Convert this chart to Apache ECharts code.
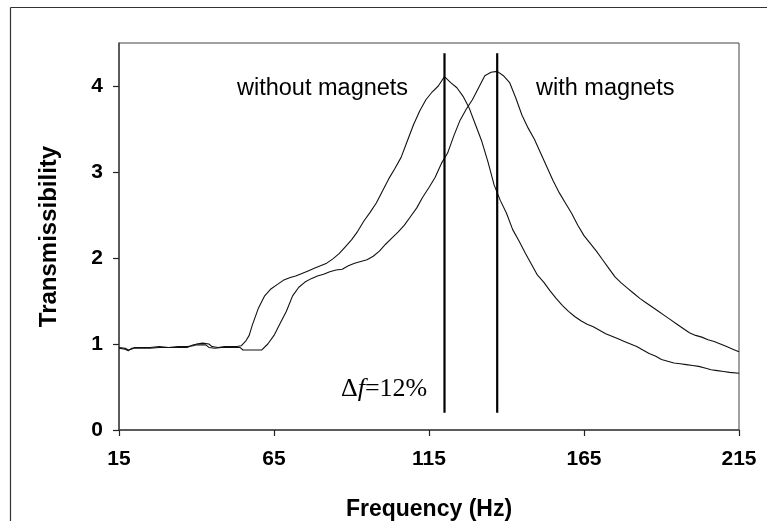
<!DOCTYPE html>
<html>
<head>
<meta charset="utf-8">
<script src="https://cdn.jsdelivr.net/npm/echarts@6/dist/echarts.min.js"></script>
<style>
  html, body { margin: 0; padding: 0; background: #fff; }
  #chart { width: 767px; height: 521px; }
</style>
</head>
<body>
<div id="chart"></div>
<script>
// Frequency sweep without magnets (Hz) and its transmissibility
const freqWithout = [15,17,18,19,20,22,25,28,31,34,37,39,40,42,44,45,47,49,51,53,54.5,56,57,58,60,62,64,66,68,70,72,74,76,78,80,82,84,86,88,90,92,94,96,98,100,102,104,106,108,110,112,114,116,118,120,122,124,126,128,130,132,134,136,138,140,142,144,146,148,150,152,154,156,158,160,162,164,166,168,170,172,174,176,178,180,182,184,186,188,190,192,194,196,198,200,202,204,206,208,210,212,215];
const transWithout = [0.96,0.95,0.93,0.94,0.96,0.96,0.96,0.97,0.96,0.97,0.97,0.98,1.00,1.01,1.00,0.97,0.96,0.97,0.97,0.97,0.98,1.04,1.10,1.22,1.42,1.56,1.64,1.69,1.74,1.77,1.79,1.82,1.85,1.88,1.91,1.94,1.99,2.05,2.13,2.21,2.31,2.43,2.53,2.64,2.78,2.92,3.04,3.17,3.36,3.55,3.71,3.84,3.93,4.00,4.11,4.04,3.98,3.88,3.74,3.55,3.36,3.12,2.85,2.67,2.52,2.33,2.20,2.06,1.93,1.80,1.72,1.62,1.53,1.45,1.38,1.32,1.27,1.23,1.20,1.16,1.12,1.09,1.06,1.03,1.00,0.97,0.93,0.89,0.86,0.82,0.80,0.78,0.77,0.76,0.75,0.74,0.72,0.70,0.69,0.68,0.67,0.66];

// Frequency sweep with magnets (Hz) and its transmissibility
const freqWith = [15,17,18,19,22,25,28,31,34,37,39,41,43,44,46,48,50,52,54,55,57,59,61,63,65,67,69,71,73,75,77,79,81,83,85,87,89,91,93,95,97,99,101,103,105,107,109,111,113,115,117,119,121,123,125,127,129,131,133,135,137,139,141,143,145,147,149,151,153,155,157,159,161,163,165,167,169,171,173,175,177,179,181,183,185,187,189,191,193,195,197,199,201,203,205,207,209,211,213,215];
const transWith = [0.95,0.94,0.92,0.95,0.95,0.95,0.96,0.96,0.96,0.96,0.99,0.99,0.99,0.96,0.95,0.96,0.96,0.96,0.96,0.93,0.93,0.93,0.93,1.00,1.10,1.24,1.38,1.56,1.66,1.72,1.76,1.79,1.81,1.84,1.86,1.87,1.91,1.94,1.96,1.98,2.02,2.08,2.16,2.23,2.30,2.38,2.48,2.58,2.71,2.82,2.94,3.10,3.22,3.42,3.60,3.73,3.84,3.98,4.12,4.16,4.17,4.12,4.04,3.86,3.66,3.51,3.38,3.22,3.06,2.90,2.76,2.64,2.52,2.38,2.26,2.17,2.08,1.98,1.88,1.78,1.71,1.65,1.59,1.53,1.48,1.43,1.38,1.33,1.28,1.23,1.18,1.13,1.10,1.08,1.05,1.03,1.00,0.97,0.94,0.91];

// Resonance markers (Hz) and the vertical span they cover
const peakFreqs = [120, 137];
const peakSpan = [0.2, 4.38];

// Axis ticks
const freqTicks = [15, 65, 115, 165, 215];
const transTicks = [0, 1, 2, 3, 4];

const zip = (xs, ys) => xs.map((x, i) => [x, ys[i]]);

const chart = echarts.init(document.getElementById('chart'), null, { renderer: 'canvas' });

const sans = 'Liberation Sans, Arial, sans-serif';
const serif = 'Liberation Serif, Times New Roman, serif';
const curveStyle = { color: '#111', width: 1.1 };

const markerSeries = peakFreqs.map(f => ({
  type: 'line',
  data: peakSpan.map(v => [f, v]),
  symbol: 'none',
  silent: true,
  lineStyle: { color: '#000', width: 2.2 },
  z: 3
}));

chart.setOption({
  animation: false,
  backgroundColor: '#fff',
  grid: {
    left: 119, right: 28, top: 43, bottom: 91,
    containLabel: false,
    outerBoundsMode: 'none',
    show: true, borderColor: '#444', borderWidth: 1
  },
  xAxis: {
    type: 'value',
    min: 15, max: 215,
    name: 'Frequency (Hz)',
    nameLocation: 'middle',
    nameGap: 68,
    nameTextStyle: { fontFamily: sans, fontWeight: 'bold', fontSize: 23, color: '#000' },
    axisLine: { show: true, lineStyle: { color: '#444', width: 1.5 } },
    axisTick: { show: true, length: 6, lineStyle: { color: '#222', width: 1.2 }, customValues: freqTicks },
    axisLabel: { customValues: freqTicks, margin: 19, fontFamily: sans, fontWeight: 'bold', fontSize: 21, color: '#000' },
    splitLine: { show: false }
  },
  yAxis: {
    type: 'value',
    min: 0, max: 4.5,
    name: 'Transmissibility',
    nameLocation: 'middle',
    nameGap: 58,
    nameTextStyle: { fontFamily: sans, fontWeight: 'bold', fontSize: 24, color: '#000' },
    axisLine: { show: true, lineStyle: { color: '#444', width: 1.5 } },
    axisTick: { show: true, length: 6, lineStyle: { color: '#222', width: 1.2 }, customValues: transTicks },
    axisLabel: { customValues: transTicks, margin: 16, fontFamily: sans, fontWeight: 'bold', fontSize: 21, color: '#000' },
    splitLine: { show: false }
  },
  series: [
    { type: 'line', name: 'without magnets', data: zip(freqWithout, transWithout), symbol: 'none', lineStyle: curveStyle, z: 2 },
    { type: 'line', name: 'with magnets', data: zip(freqWith, transWith), symbol: 'none', lineStyle: curveStyle, z: 2 },
    ...markerSeries
  ],
  graphic: [
    // outer frame of the figure
    { type: 'line', shape: { x1: 10.5, y1: 7.5, x2: 10.5, y2: 521 }, style: { stroke: '#333', lineWidth: 1.2 }, silent: true },
    { type: 'line', shape: { x1: 10.5, y1: 7.5, x2: 767, y2: 7.5 }, style: { stroke: '#333', lineWidth: 1.2 }, silent: true },
    {
      type: 'text', left: 237, top: 77,
      style: { text: 'without magnets', fontFamily: sans, fontSize: 23.5, fill: '#000' }
    },
    {
      type: 'text', left: 536, top: 77,
      style: { text: 'with magnets', fontFamily: sans, fontSize: 23.5, fill: '#000' }
    },
    {
      type: 'text', left: 341, top: 376,
      style: {
        text: '{d|Δ}{f|f}{d|=12%}',
        rich: {
          d: { fontFamily: serif, fontSize: 26, fill: '#000' },
          f: { fontFamily: serif, fontStyle: 'italic', fontSize: 26, fill: '#000' }
        }
      }
    }
  ]
});
</script>
</body>
</html>
